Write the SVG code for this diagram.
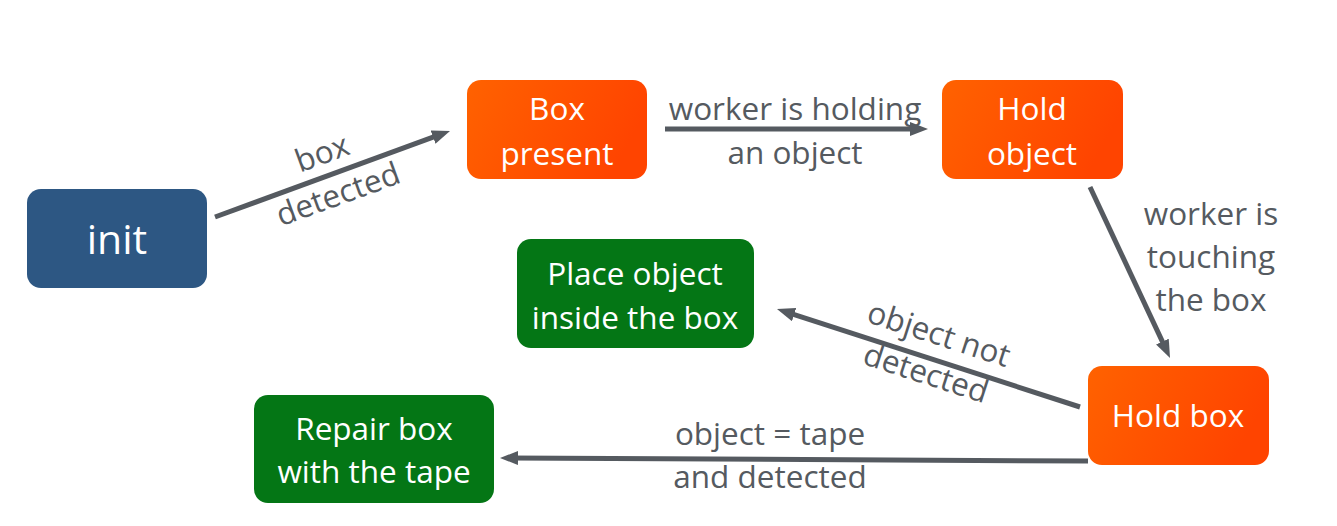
<svg xmlns="http://www.w3.org/2000/svg" width="1337" height="526" viewBox="0 0 1337 526">
<defs>
<linearGradient id="og" x1="0" y1="0" x2="1" y2="0.3">
<stop offset="0" stop-color="#FF6200"/>
<stop offset="1" stop-color="#FF4400"/>
</linearGradient>
<marker id="ah" markerUnits="userSpaceOnUse" markerWidth="20" markerHeight="16" refX="8" refY="7" orient="auto" viewBox="0 0 20 16">
<path d="M0,0 L18,7 L0,14 z" fill="#555A60"/>
</marker>
<style>
.nt{font-family:"Open Sans","Liberation Sans",sans-serif;font-size:31.5px;fill:#ffffff;text-anchor:middle}
.lb{font-family:"Open Sans","Liberation Sans",sans-serif;font-size:31.5px;fill:#555A60;text-anchor:middle}
.cn{stroke:#555A60;stroke-width:5;fill:none;marker-end:url(#ah)}
.or{fill:url(#og)}
.gr{fill:#047615}
</style>
</defs>
<rect width="1337" height="526" fill="#ffffff"/>
<g id="connectors">
<line class="cn" x1="215" y1="217" x2="440.6" y2="134.4"/>
<line class="cn" x1="665" y1="129" x2="918" y2="129"/>
<line class="cn" x1="1090" y1="187" x2="1165.8" y2="348.9"/>
<line class="cn" x1="1080" y1="407" x2="786.5" y2="312.1"/>
<line class="cn" x1="1088" y1="461" x2="510" y2="458"/>
</g>
<g id="labels">
<text class="lb" transform="translate(322,153) rotate(-20)" x="0" y="11">box</text>
<text class="lb" transform="translate(338,194) rotate(-20)" x="0" y="11">detected</text>
<text class="lb" x="795" y="120">worker is holding</text>
<text class="lb" x="795" y="164">an object</text>
<text class="lb" x="1211" y="225">worker is</text>
<text class="lb" x="1211" y="268">touching</text>
<text class="lb" x="1211" y="311">the box</text>
<text class="lb" transform="translate(939,334) rotate(18)" x="0" y="11">object not</text>
<text class="lb" transform="translate(926,373) rotate(18)" x="0" y="11">detected</text>
<text class="lb" x="770" y="445">object = tape</text>
<text class="lb" x="770" y="488">and detected</text>
</g>
<g id="init">
<rect x="27" y="189" width="180" height="99" rx="14" fill="#2D5783"/>
<text class="nt" x="117" y="254" style="font-size:41px">init</text>
</g>
<g id="box-present">
<rect class="or" x="467" y="80" width="180" height="99" rx="14"/>
<text class="nt" x="557" y="120">Box</text>
<text class="nt" x="557" y="165">present</text>
</g>
<g id="hold-object">
<rect class="or" x="942" y="80" width="181" height="99" rx="14"/>
<text class="nt" x="1032" y="120">Hold</text>
<text class="nt" x="1032" y="165">object</text>
</g>
<g id="place-object">
<rect class="gr" x="517" y="239" width="237" height="109" rx="14"/>
<text class="nt" x="635" y="285">Place object</text>
<text class="nt" x="635" y="329">inside the box</text>
</g>
<g id="hold-box">
<rect class="or" x="1088" y="366" width="181" height="99" rx="14"/>
<text class="nt" x="1178" y="427">Hold box</text>
</g>
<g id="repair-box">
<rect class="gr" x="254" y="395" width="240" height="108" rx="14"/>
<text class="nt" x="374" y="440">Repair box</text>
<text class="nt" x="374" y="483">with the tape</text>
</g>
</svg>
